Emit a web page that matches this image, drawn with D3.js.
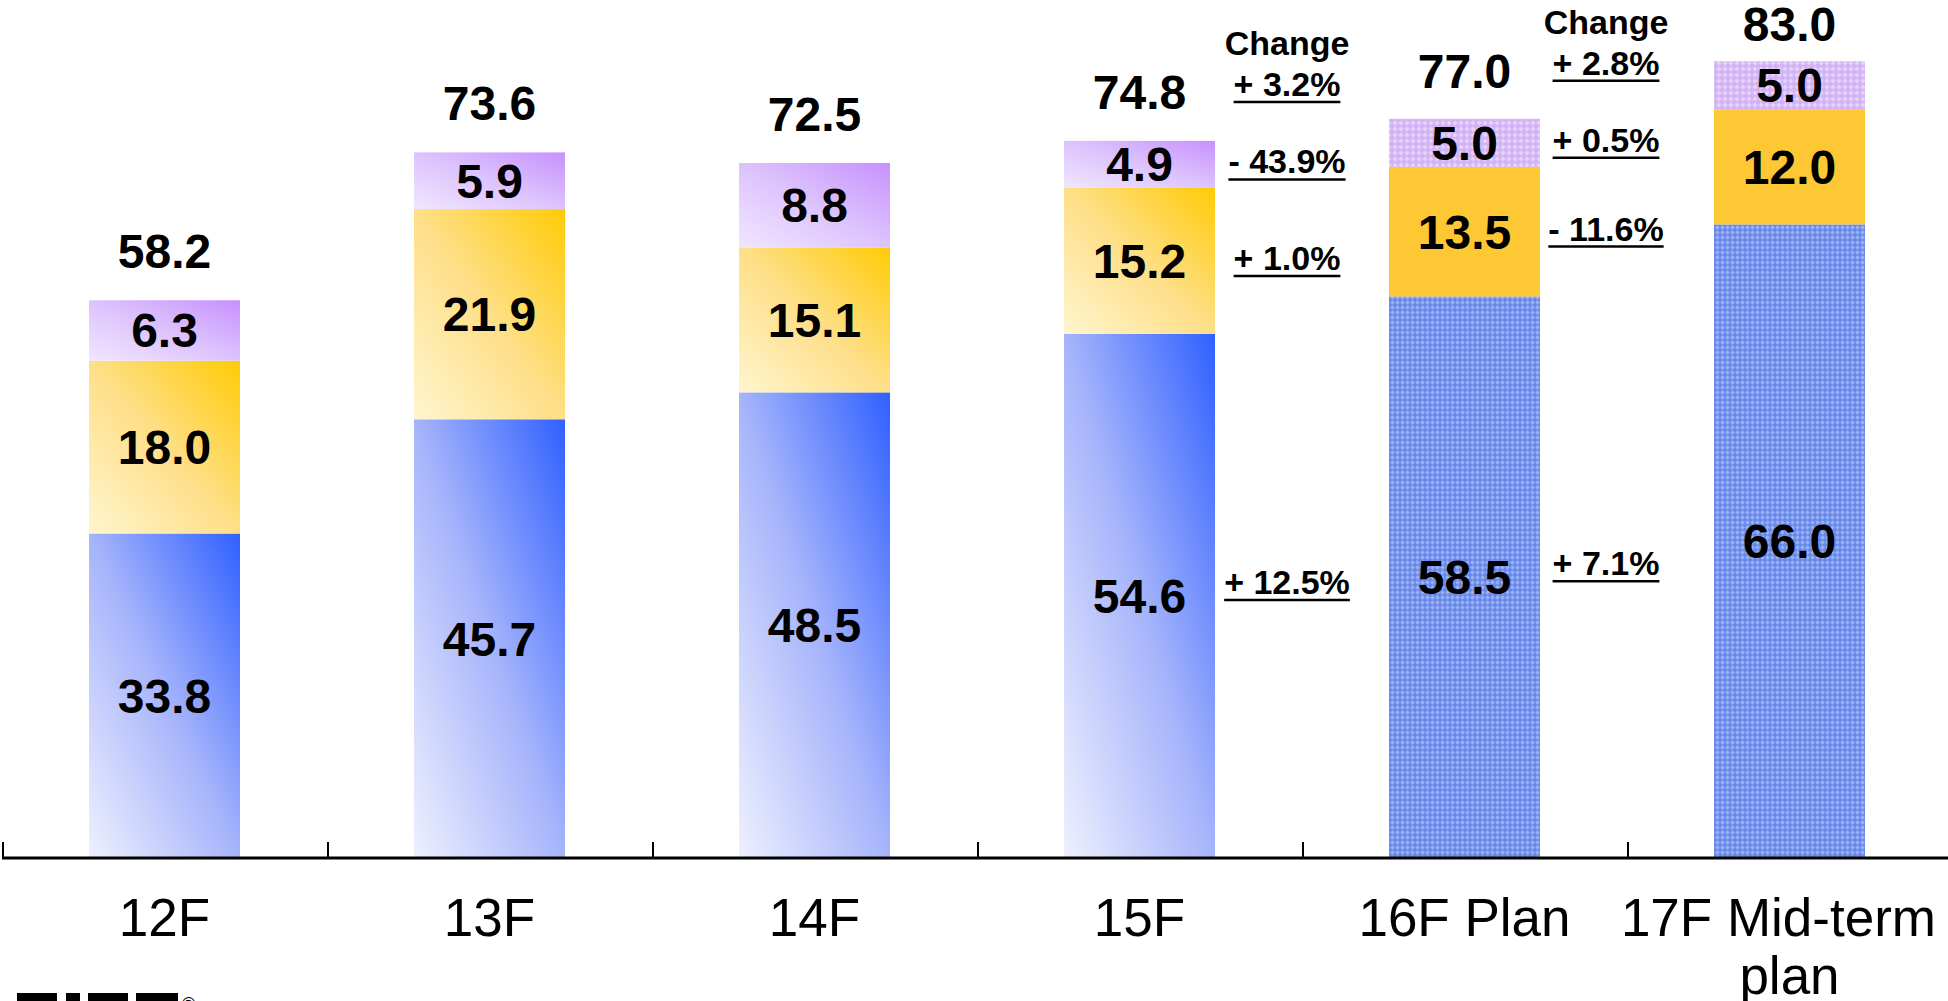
<!DOCTYPE html>
<html>
<head>
<meta charset="utf-8">
<script src="https://cdn.jsdelivr.net/npm/d3@7"></script>
<style>
  body { margin: 0; background: #fff; }
  svg { display: block; font-family: "Liberation Sans", Arial, sans-serif; }
</style>
</head>
<body>
<div id="chart"></div>
<script>
// ---- data ----
var categories = ["12F", "13F", "14F", "15F", "16F Plan", "17F Mid-term plan"];
var tickLabels = [["12F"], ["13F"], ["14F"], ["15F"], ["16F Plan"], ["17F Mid-term", "plan"]];
var blueValues   = [33.8, 45.7, 48.5, 54.6, 58.5, 66.0];
var yellowValues = [18.0, 21.9, 15.1, 15.2, 13.5, 12.0];
var purpleValues = [6.3, 5.9, 8.8, 4.9, 5.0, 5.0];
var totals       = [58.2, 73.6, 72.5, 74.8, 77.0, 83.0];
var planned      = [false, false, false, false, true, true];

// change columns (shown to the right of 15F and 16F)
var changeCats   = ["15F", "16F Plan"];
var changeTotal  = ["+ 3.2%", "+ 2.8%"];
var changePurple = ["- 43.9%", "+ 0.5%"];
var changeYellow = ["+ 1.0%", "- 11.6%"];
var changeBlue   = ["+ 12.5%", "+ 7.1%"];

var width = 1948, height = 1001;
var svg = d3.select("#chart").append("svg")
    .attr("width", width)
    .attr("height", height);

var defs = svg.append("defs");

function diagGradient(id, light, mid, dark) {
  var g = defs.append("linearGradient").attr("id", id)
      .attr("x1", 0).attr("y1", 1).attr("x2", 1).attr("y2", 0);
  g.append("stop").attr("offset", "0%").attr("stop-color", light);
  g.append("stop").attr("offset", "50%").attr("stop-color", mid);
  g.append("stop").attr("offset", "100%").attr("stop-color", dark);
}
diagGradient("gBlue", "#eef0fe", "#a6b4fb", "#2f60ff");
diagGradient("gYellow", "#fff5cf", "#fedf88", "#ffcb05");
diagGradient("gPurple", "#f0e6ff", "#ddc3fd", "#c790fe");

// textured fills for the plan bars
var pb = defs.append("pattern").attr("id", "pBlue")
    .attr("width", 5).attr("height", 5).attr("patternUnits", "userSpaceOnUse");
pb.append("rect").attr("width", 5).attr("height", 5).attr("fill", "#6989ea");
pb.append("path").attr("d", "M2.5,0.3 L4.7,2.5 L2.5,4.7 L0.3,2.5 Z").attr("fill", "#9ab1f7");

var pp = defs.append("pattern").attr("id", "pPurple")
    .attr("width", 6).attr("height", 6).attr("patternUnits", "userSpaceOnUse");
pp.append("rect").attr("width", 6).attr("height", 6).attr("fill", "#d3b3f6");
pp.append("path").attr("d", "M3,0.5 L5.5,3 L3,5.5 L0.5,3 Z").attr("fill", "#e6d3fa");

var x = d3.scaleBand().domain(categories).range([2, 1952]);
var y = d3.scaleLinear().domain([0, 89]).range([858, 858 - 89 * 9.6]);
var barW = 151;
function barX(c) { return x(c) + (x.bandwidth() - barW) / 2; }

// stacked rows
var rows = categories.map(function(c, i) {
  var b = blueValues[i], yl = yellowValues[i], p = purpleValues[i];
  return {
    cat: c, plan: planned[i], total: totals[i],
    segs: [
      { key: "blue",   v: b,  y0: 0,      y1: b },
      { key: "yellow", v: yl, y0: b,      y1: b + yl },
      { key: "purple", v: p,  y0: b + yl, y1: b + yl + p }
    ]
  };
});

function segFill(row, key) {
  if (row.plan) {
    if (key === "blue") return "url(#pBlue)";
    if (key === "yellow") return "#fec835";
    return "url(#pPurple)";
  }
  return key === "blue" ? "url(#gBlue)" : key === "yellow" ? "url(#gYellow)" : "url(#gPurple)";
}

var bars = svg.append("g").attr("class", "bars")
  .selectAll("g")
  .data(rows)
  .enter().append("g");

bars.selectAll("rect")
  .data(function(d) { return d.segs.map(function(s) { return { row: d, s: s }; }); })
  .enter().append("rect")
    .attr("x", function(d) { return barX(d.row.cat); })
    .attr("y", function(d) { return y(d.s.y1); })
    .attr("width", barW)
    .attr("height", function(d) { return y(d.s.y0) - y(d.s.y1); })
    .attr("fill", function(d) { return segFill(d.row, d.s.key); });

bars.selectAll("text.seg")
  .data(function(d) { return d.segs.map(function(s) { return { row: d, s: s }; }); })
  .enter().append("text")
    .attr("class", "seg")
    .attr("x", function(d) { return barX(d.row.cat) + barW / 2; })
    .attr("y", function(d) { return (y(d.s.y0) + y(d.s.y1)) / 2 + 17; })
    .attr("text-anchor", "middle")
    .attr("font-size", 48)
    .attr("font-weight", "bold")
    .text(function(d) { return d.s.v.toFixed(1); });

bars.append("text")
    .attr("x", function(d) { return barX(d.cat) + barW / 2; })
    .attr("y", function(d) { return Math.max(y(d.total) - 31, 41); })
    .attr("text-anchor", "middle")
    .attr("font-size", 48)
    .attr("font-weight", "bold")
    .text(function(d) { return d.total.toFixed(1); });

// axis
var axis = svg.append("g").attr("class", "axis");
axis.append("line")
    .attr("x1", 2).attr("x2", width)
    .attr("y1", y(0)).attr("y2", y(0))
    .attr("stroke", "#000").attr("stroke-width", 3);
axis.selectAll("line.tick")
  .data(categories)
  .enter().append("line")
    .attr("class", "tick")
    .attr("x1", function(d) { return x(d) + 1; })
    .attr("x2", function(d) { return x(d) + 1; })
    .attr("y1", y(0)).attr("y2", y(0) - 16)
    .attr("stroke", "#000").attr("stroke-width", 2);

axis.selectAll("text")
  .data(categories)
  .enter().append("text")
    .attr("x", function(d) { return x(d) + x.bandwidth() / 2; })
    .attr("y", 936)
    .attr("text-anchor", "middle")
    .attr("font-size", 53)
    .each(function(d, i) {
      var t = d3.select(this);
      var cx = x(d) + x.bandwidth() / 2;
      tickLabels[i].forEach(function(line, j) {
        var ts = t.append("tspan")
          .attr("x", cx)
          .attr("dy", j === 0 ? 0 : 58)
          .text(line);
        // keep a long line inside the right edge
        var w = ts.node().getComputedTextLength();
        if (cx + w / 2 > width - 12) ts.attr("x", width - 12 - w / 2);
      });
    });

// change columns
function changeText(g, cx, baseY, txt, underline) {
  var t = g.append("text")
      .attr("x", cx).attr("y", baseY)
      .attr("text-anchor", "middle")
      .attr("font-size", 34)
      .attr("font-weight", "bold")
      .text(txt);
  if (underline) {
    var w = t.node().getComputedTextLength();
    g.append("line")
      .attr("x1", cx - w / 2).attr("x2", cx + w / 2)
      .attr("y1", baseY + 6).attr("y2", baseY + 6)
      .attr("stroke", "#000").attr("stroke-width", 2.5);
  }
}

var changes = svg.append("g").attr("class", "changes");
changeCats.forEach(function(c, k) {
  var row = rows[categories.indexOf(c)];
  var cx = barX(c) + barW + 72 - k * 6;
  var top = Math.max(y(row.total) - 31, 41) - 13;
  changeText(changes, cx, top - 41, "Change", false);
  changeText(changes, cx, top, changeTotal[k], true);
  var mids = row.segs.map(function(s) { return (y(s.y0) + y(s.y1)) / 2; });
  changeText(changes, cx, mids[2] + 9, changePurple[k], true);
  changeText(changes, cx, mids[1] + 9, changeYellow[k], true);
  changeText(changes, cx, mids[0] - 2, changeBlue[k], true);
});

// logo fragment at the bottom left (cut off by the frame)
var logo = svg.append("g").attr("class", "logo");
[[17, 40], [66, 14], [88, 40], [136, 42]].forEach(function(r) {
  logo.append("rect").attr("x", r[0]).attr("y", 993).attr("width", r[1]).attr("height", 10).attr("fill", "#000");
});
logo.append("text").attr("x", 182).attr("y", 1010).attr("font-size", 18).text("®");
</script>
</body>
</html>
